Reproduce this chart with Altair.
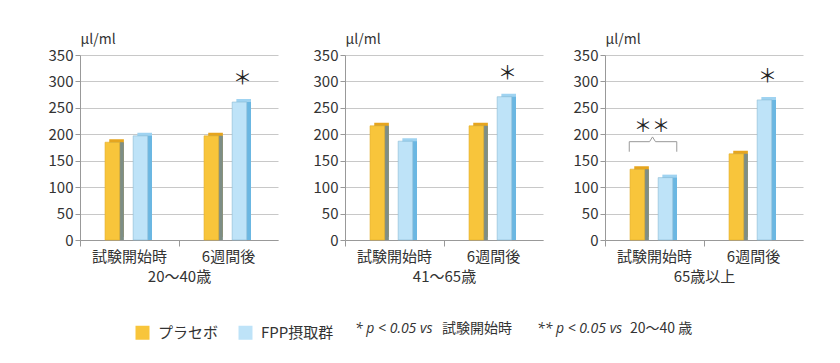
import altair as alt
import pandas as pd

FONT = "Noto Sans CJK JP"

timepoints = ["試験開始時", "6週間後"]
groups = ["プラセボ", "FPP摂取群"]
age_titles = ["20〜40歳", "41〜65歳", "65歳以上"]

# values per panel: [start placebo, start FPP, 6w placebo, 6w FPP]
vals_20_40 = [185, 197, 197, 261]
vals_41_65 = [216, 187, 216, 271]
vals_65 = [134, 118, 163, 265]
panel_values = [vals_20_40, vals_41_65, vals_65]

front_colors = ["#F8C53B", "#BEE3F8"]
front_strokes = ["#E3AE2A", "#8CBAD3"]
top_colors = ["#E6A51E", "#9FD3F1"]
side_colors = ["#7D8E86", "#6BB7E2"]

# significance asterisk (6週間後 FPP) and bracket (65歳以上, 試験開始時)
sig_star_tp = "6週間後"
sig_star_group = "FPP摂取群"
bracket_x = [0.245, 0.245, 0.45, 0.48, 0.51, 0.725, 0.725]
bracket_y = [167, 186, 186, 195, 186, 186, 167]
double_star_x = [0.475]
double_star_y = [214]

notes = ["* p < 0.05 vs", "試験開始時", "** p < 0.05 vs", "20〜40 歳"]
note_italic = [True, False, True, False]
note_x = [275, 362, 457, 550]

W, H = 198, 185


def group_color(colors):
    return alt.condition(alt.datum.group == groups[0], alt.value(colors[0]), alt.value(colors[1]))


def make_panel(vals, title, bracket):
    rows = []
    i = 0
    for tp in timepoints:
        for g in groups:
            rows.append({"timepoint": tp, "group": g, "value": vals[i]})
            i += 1
    df = pd.DataFrame(rows)

    x = alt.X("timepoint:N", sort=timepoints,
              scale=alt.Scale(paddingInner=0, paddingOuter=0),
              axis=alt.Axis(title=title, labelAngle=0, bandPosition=0, orient="bottom",
                            labelPadding=3, titlePadding=5, tickSize=6))
    xo_front = alt.XOffset("group:N", sort=groups,
                           scale=alt.Scale(paddingInner=0.48, paddingOuter=1, align=0.445))
    xo_back = alt.XOffset("group:N", sort=groups,
                          scale=alt.Scale(paddingInner=0.48, paddingOuter=1, align=0.52))
    y = alt.Y("value:Q",
              scale=alt.Scale(domain=[0, 350], nice=False),
              axis=alt.Axis(values=list(range(0, 351, 50)), title="μl/ml",
                            titleAngle=0, titleAlign="left", titleBaseline="alphabetic",
                            titleX=0, titleY=-12, titleFontSize=14, titleFontWeight="normal",
                            tickSize=5, labelPadding=2))

    base = alt.Chart(df)
    top = base.mark_bar(yOffset=-3).encode(
        x=x, xOffset=xo_back, y=y, color=group_color(top_colors))
    side = base.mark_bar().encode(
        x=x, xOffset=xo_back, y=y, color=group_color(side_colors))
    front = base.mark_bar(strokeWidth=0.6).encode(
        x=x, xOffset=xo_front, y=y,
        stroke=group_color(front_strokes),
        color=alt.Color("group:N", scale=alt.Scale(domain=groups, range=front_colors),
                        legend=alt.Legend(title=None, orient="none", direction="horizontal",
                                          legendX=55, legendY=270, symbolType="square",
                                          symbolSize=196, symbolStrokeWidth=0,
                                          labelFont=FONT, labelFontSize=15, labelColor="#333",
                                          columnPadding=19, labelOffset=8)))
    star = base.transform_filter(
        (alt.datum.timepoint == sig_star_tp) & (alt.datum.group == sig_star_group)
    ).mark_text(text="＊", fontSize=19, dy=-23, dx=3, font=FONT, color="#222").encode(
        x=x, xOffset=xo_front, y=y)
    bars = alt.layer(top, side, alt.layer(front, star)).resolve_scale(xOffset="independent")
    if bracket:
        bdf = pd.DataFrame({"bx": bracket_x, "value": bracket_y, "order": list(range(len(bracket_x)))})
        br = alt.Chart(bdf).mark_line(color="#999", strokeWidth=1).encode(
            x=alt.X("bx:Q", scale=alt.Scale(domain=[0, 2], nice=False, zero=False), axis=None),
            y=y, order="order:Q")
        sdf = pd.DataFrame({"bx": double_star_x, "value": double_star_y})
        ds = alt.Chart(sdf).mark_text(text="＊＊", fontSize=18, font=FONT, color="#222").encode(
            x=alt.X("bx:Q", scale=alt.Scale(domain=[0, 2], nice=False, zero=False), axis=None),
            y=y)
        chart = alt.layer(bars, alt.layer(br, ds)).resolve_scale(x="independent")
    else:
        chart = bars
    return chart.properties(width=W, height=H)


panels = [make_panel(v, t, i == 2) for i, (v, t) in enumerate(zip(panel_values, age_titles))]
row = alt.hconcat(alt.hconcat(panels[0], panels[1], spacing=35), panels[2], spacing=30)

ndf = pd.DataFrame({"note": notes, "italic": note_italic, "nx": note_x})
nbase = alt.Chart(ndf).encode(
    x=alt.X("nx:Q", scale=alt.Scale(domain=[0, 700], range=[0, 700]), axis=None),
    y=alt.value(15),
    text="note:N",
)
n_it = nbase.transform_filter(alt.datum.italic).mark_text(
    font="Open Sans", fontSize=14, align="left", baseline="middle", color="#333", fontStyle="italic")
n_no = nbase.transform_filter(~alt.datum.italic).mark_text(
    font=FONT, fontSize=14, align="left", baseline="middle", color="#333")
notes_chart = alt.layer(n_it, n_no).properties(width=700, height=24)

chart = alt.vconcat(row, notes_chart, spacing=30).properties(
    padding={"left": 40, "top": 24, "right": 5, "bottom": 5}
).configure_view(stroke=None).configure_axis(
    labelFont=FONT, titleFont=FONT, labelFontSize=15, labelColor="#333", titleColor="#333",
    titleFontSize=15, titleFontWeight="normal",
    domainColor="#999", tickColor="#999", gridColor="#c8c8c8"
).configure_axisX(grid=False)

chart.save("out.html", embed_options={"renderer": "svg", "actions": False})
